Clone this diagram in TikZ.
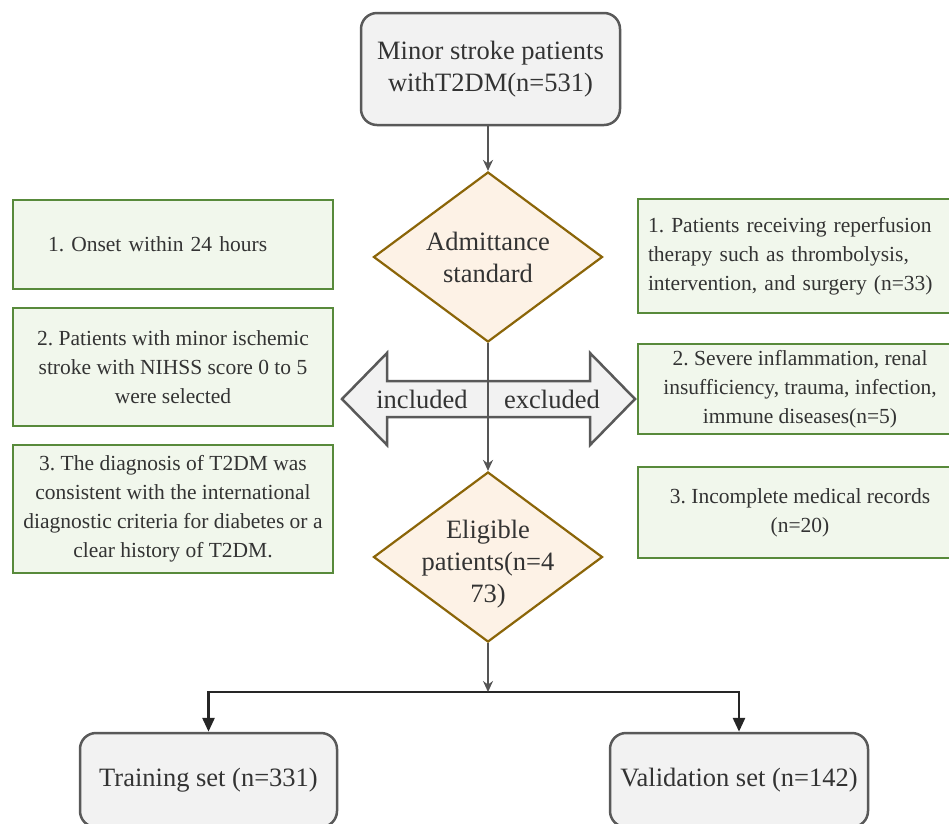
\documentclass[tikz,border=0pt]{standalone}
\usepackage{fontspec}
\setmainfont{Liberation Serif}
\usetikzlibrary{shapes.geometric,arrows.meta}
\definecolor{txt}{HTML}{333333}
\definecolor{grayedge}{HTML}{595959}
\definecolor{grayfill}{HTML}{F2F2F2}
\definecolor{diamedge}{HTML}{8B6508}
\definecolor{diamfill}{HTML}{FDF2E6}
\definecolor{greenedge}{HTML}{588A3B}
\definecolor{greenfill}{HTML}{F1F7EC}
\definecolor{lineg}{HTML}{555555}
\definecolor{lined}{HTML}{262626}
\frenchspacing
\begin{document}
\begin{tikzpicture}[x=1pt,y=-1pt,
  bigtext/.style={text=txt, font=\fontsize{26.5}{32}\selectfont, align=center, inner sep=0pt},
  smalltext/.style={text=txt, font=\fontsize{21.5}{29}\selectfont},
  grayb/.style={bigtext, draw=grayedge, fill=grayfill, line width=2.5pt, rounded corners=16pt},
  diam/.style={diamond, draw=diamedge, fill=diamfill, line width=2.2pt, minimum width=229pt, minimum height=170pt, inner sep=0pt},
  gbox/.style={smalltext, draw=greenedge, fill=greenfill, line width=2.8pt, inner xsep=0pt, inner ysep=0pt, align=center, minimum width=320pt},
  rbox/.style={gbox, minimum width=324pt},
  dbl/.style={draw=grayedge, fill=grayfill, line width=2.5pt, line join=miter},
  conn/.style={draw=lineg, line width=2pt, -{Stealth[length=11pt,width=10pt]}},
  conn2/.style={draw=lined, line width=2.8pt, -{Triangle[length=14pt,width=12pt]}}
]
\useasboundingbox (0,0) rectangle (949,823);
\clip (0,0) rectangle (949,823);

% top box
\node[grayb, minimum width=259pt, minimum height=112pt] (top) at (490.5,69) {Minor stroke patients\\withT2DM(n=531)};

% diamonds
\node[diam] (adm) at (488,257) {};
\node[bigtext] (admt) at (adm.center) {Admittance\\standard};
\node[diam] (elig) at (488,557) {};
\node[bigtext] (eligt) at (488,564) {Eligible\\patients(n=4\\73)};

% left green boxes
\node[gbox, minimum height=89pt, text width=250pt, inner xsep=35pt, align=left] (lg1) at (173,244.5) {1. Onset within 24 hours};
\node[gbox, minimum height=118pt] (lg2) at (173,367) {2. Patients with minor ischemic\\stroke with NIHSS score 0 to 5\\were selected};
\node[gbox, minimum height=128pt] (lg3) at (173,509) {3. The diagnosis of T2DM was\\consistent with the international\\diagnostic criteria for diabetes or a\\clear history of T2DM.};

% right green boxes
\node[rbox, minimum height=114pt, text width=304pt, inner xsep=10pt, align=left] (rg1) at (800,256) {1. Patients receiving reperfusion\\therapy such as thrombolysis,\\intervention, and surgery (n=33)};
\node[rbox, minimum height=90pt] (rg2) at (800,389) {2. Severe inflammation, renal\\insufficiency, trauma, infection,\\immune diseases(n=5)};
\node[rbox, minimum height=91pt] (rg3) at (800,512.5) {3. Incomplete medical records\\(n=20)};

% double arrow
\draw[dbl] (342,399) -- (387,353) -- (387,381) -- (590,381) -- (590,353) -- (635,399)
  -- (590,445) -- (590,417) -- (387,417) -- (387,445) -- cycle;
\node[bigtext] (inc) at (422,399) {included};
\node[bigtext] (exc) at (552,399) {excluded};

% bottom boxes
\node[grayb, minimum width=257pt, minimum height=94pt] (train) at (208.5,780) {Training set (n=331)};
\node[grayb, minimum width=258pt, minimum height=94pt] (valid) at (739,780) {Validation set (n=142)};

% connectors
\draw[conn] (top.south -| adm.north) -- (adm.north);
\draw[conn] (adm.south) -- (elig.north);
\coordinate (split) at (488,692);
\draw[conn2] (split) -| (train.north);
\draw[conn2] (split) -| (valid.north);
\draw[conn] (elig.south) -- (split);
\end{tikzpicture}
\end{document}
